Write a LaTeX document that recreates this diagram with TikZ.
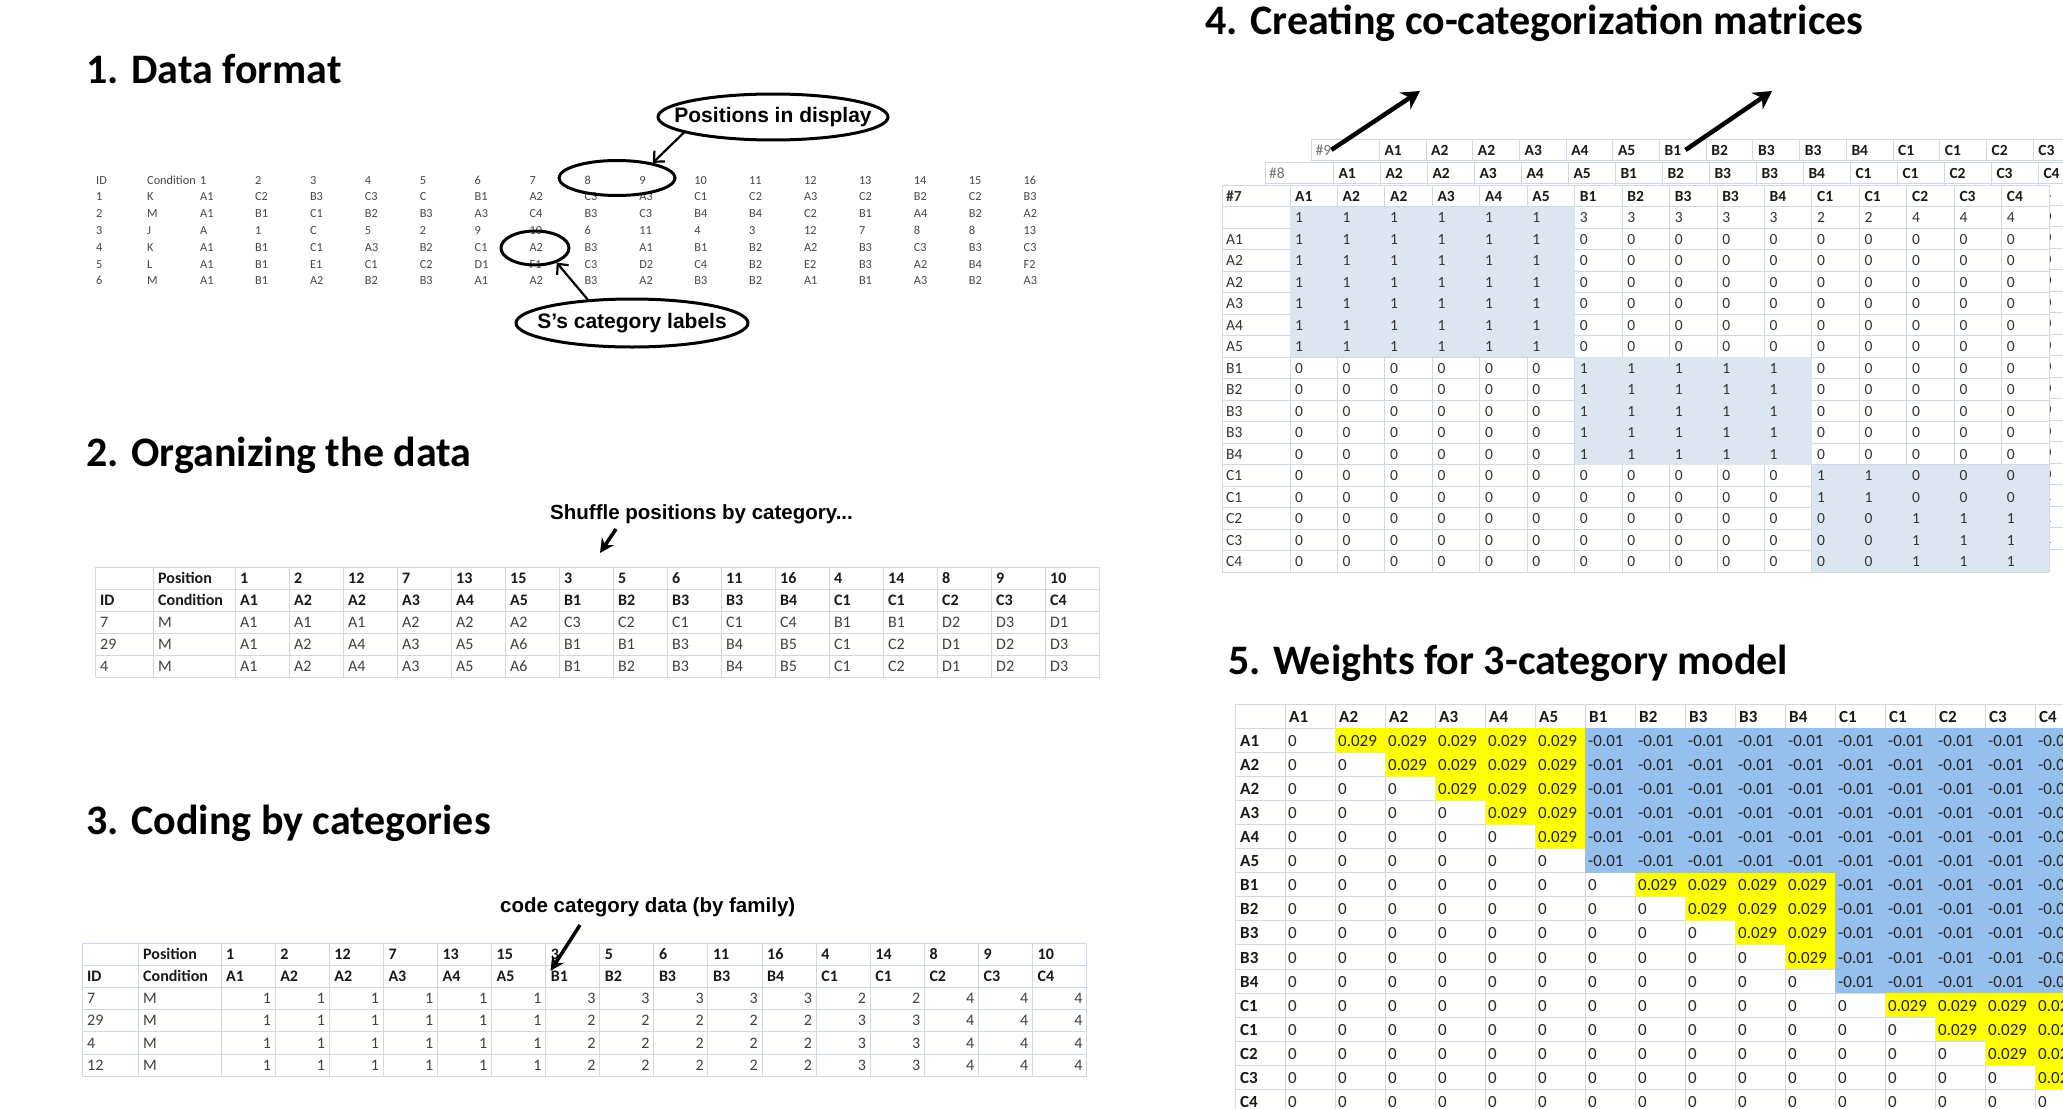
\documentclass[tikz,border=0pt]{standalone}
\usepackage{fontspec}
\setmainfont{Carlito}
\newfontfamily\arialf{Liberation Sans}
\usetikzlibrary{arrows.meta,calc,shapes.geometric}
\definecolor{gridc}{HTML}{D0D7E5}
\definecolor{shadeblue}{HTML}{DCE6F1}
\definecolor{wblue}{HTML}{95BFEC}
\definecolor{wyellow}{HTML}{FFFF00}

\newcommand\drawlayer[8]{%
  \pgfmathsetmacro\LR{#1+#3+16*#4}%
  \pgfmathsetmacro\LB{#2+#7*21.5}%
  \fill[white] (#1,#2) rectangle (\LR,\LB);
  \foreach \k in {0,...,#7} \draw[gridl] (#1,{#2+21.5*\k}) -- (\LR,{#2+21.5*\k});
  \draw[gridl] (#1,#2) -- (#1,\LB);
  \foreach \j in {0,...,16} \draw[gridl] ({#1+#3+#4*\j},#2) -- ({#1+#3+#4*\j},\LB);
  #8
  \node[mbody] (#6-0-0) at ({#1+4},{#2+16}) {#5};
  \foreach \v [count=\c] in {A1,A2,A2,A3,A4,A5,B1,B2,B3,B3,B4,C1,C1,C2,C3,C4}
    \node[mhead] (#6-0-\c) at ({#1+#3+#4*(\c-1)+5},{#2+16}) {\v};
  \ifnum#7>1
  \foreach \row [count=\r] in {%
    {,1,1,1,1,1,1,3,3,3,3,3,2,2,4,4,4},%
    {A1,1,1,1,1,1,1,0,0,0,0,0,0,0,0,0,0},%
    {A2,1,1,1,1,1,1,0,0,0,0,0,0,0,0,0,0},%
    {A2,1,1,1,1,1,1,0,0,0,0,0,0,0,0,0,0},%
    {A3,1,1,1,1,1,1,0,0,0,0,0,0,0,0,0,0},%
    {A4,1,1,1,1,1,1,0,0,0,0,0,0,0,0,0,0},%
    {A5,1,1,1,1,1,1,0,0,0,0,0,0,0,0,0,0},%
    {B1,0,0,0,0,0,0,1,1,1,1,1,0,0,0,0,0},%
    {B2,0,0,0,0,0,0,1,1,1,1,1,0,0,0,0,0},%
    {B3,0,0,0,0,0,0,1,1,1,1,1,0,0,0,0,0},%
    {B3,0,0,0,0,0,0,1,1,1,1,1,0,0,0,0,0},%
    {B4,0,0,0,0,0,0,1,1,1,1,1,0,0,0,0,0},%
    {C1,0,0,0,0,0,0,0,0,0,0,0,1,1,0,0,0},%
    {C1,0,0,0,0,0,0,0,0,0,0,0,1,1,0,0,0},%
    {C2,0,0,0,0,0,0,0,0,0,0,0,0,0,1,1,1},%
    {C3,0,0,0,0,0,0,0,0,0,0,0,0,0,1,1,1},%
    {C4,0,0,0,0,0,0,0,0,0,0,0,0,0,1,1,1}}{%
    \foreach \v [count=\c from 0] in \row {%
      \pgfmathsetmacro\xx{\c==0 ? #1+4 : #1+#3+#4*(\c-1)+5}%
      \pgfmathsetmacro\yy{#2+21.5*(\r+1)-5.5}%
      \node[mbody] (#6-\r-\c) at (\xx,\yy) {\v};
    }%
  }%
  \fi
}

\begin{document}
\begin{tikzpicture}[x=1pt,y=-1pt,
  title/.style={anchor=base west,inner sep=0pt,font=\fontsize{42}{50}\selectfont\bfseries,text=black},
  sone/.style={anchor=base west,inner sep=0pt,font=\fontsize{12.3}{15}\selectfont,text=black!72},
  stab/.style={inner sep=0pt,font=\fontsize{16}{19}\selectfont},
  gridl/.style={draw=gridc,line width=1pt},
  mhead/.style={anchor=base west,inner sep=0pt,font=\fontsize{15.5}{18}\selectfont\bfseries,text=black!90},
  mbody/.style={anchor=base west,inner sep=0pt,font=\fontsize{15.5}{18}\selectfont,text=black!80},
  wcell/.style={anchor=base west,inner sep=0pt,font=\fontsize{17}{20}\selectfont,text=black!85},
  whead/.style={anchor=base west,inner sep=0pt,font=\fontsize{17}{20}\selectfont\bfseries,text=black!90},
  callout/.style={inner sep=0pt,font=\arialf\bfseries\fontsize{21}{25}\selectfont,text=black},
  oval/.style={draw=black,ellipse,line width=3pt,inner sep=0pt},
  carrow/.style={line width=2.2pt,-{Straight Barb[length=8pt,width=15pt]}},
  barrow/.style={line width=3.5pt,-{Stealth[length=14pt,width=14pt]}},
  bigarrow/.style={line width=4.5pt,-{Stealth[length=18pt,width=20pt]}}]

\useasboundingbox (0,0) rectangle (2063,1108);
\clip (0,0) rectangle (2063,1108);
\fill[white] (0,0) rectangle (2063,1108);

% ---------- titles
\node[title] (t1) at (86,83) {1. Data format};
\node[title] (t2) at (86,466) {2. Organizing the data};
\node[title] (t3) at (86,834) {3. Coding by categories};
\node[title] (t4) at (1205,35) {4. Creating co-categorization matrices};
\node[title] (t5) at (1228,674) {5. Weights for 3-category model};

% ---------- section 1
\foreach \row [count=\r from 0] in {%
  {ID,Condition,1,2,3,4,5,6,7,8,9,10,11,12,13,14,15,16},%
  {1,K,A1,C2,B3,C3,C,B1,A2,C3,A3,C1,C2,A3,C2,B2,C2,B3},%
  {2,M,A1,B1,C1,B2,B3,A3,C4,B3,C3,B4,B4,C2,B1,A4,B2,A2},%
  {3,J,A,1,C,5,2,9,10,6,11,4,3,12,7,8,8,13},%
  {4,K,A1,B1,C1,A3,B2,C1,A2,B3,A1,B1,B2,A2,B3,C3,B3,C3},%
  {5,L,A1,B1,E1,C1,C2,D1,F1,C3,D2,C4,B2,E2,B3,A2,B4,F2},%
  {6,M,A1,B1,A2,B2,B3,A1,A2,B3,A2,B3,B2,A1,B1,A3,B2,A3}}{%
  \foreach \v [count=\c from 0] in \row {%
    \pgfmathsetmacro\xx{\c==0 ? 96 : (\c==1 ? 147 : 200+(\c-2)*54.9)}%
    \pgfmathsetmacro\yy{184+16.8*\r}%
    \node[sone] (s1-\r-\c) at (\xx,\yy) {\v};
  }%
}
\node[oval,minimum width=230pt,minimum height=46pt] (pid) at (773,117) {};
\node[callout] (pidt) at (pid.center) {Positions in display};
\node[oval,minimum width=116pt,minimum height=35pt] (e89) at (617,178) {};
\node[oval,minimum width=68pt,minimum height=34pt] (ea2) at (535,248) {};
\node[oval,minimum width=232pt,minimum height=48pt] (sce) at (632,323) {};
\node[callout] (scet) at (sce.center) {S’s category labels};
\draw[carrow] (pid.190) -- (e89.23);
\draw[carrow] (sce.152) -- (ea2.326);

% ---------- section 2
\foreach \k in {0,...,5} \draw[gridl] (95,{567+22.1*\k}) -- (1099,{567+22.1*\k});
\foreach \xx in {95,153} \draw[gridl] (\xx,567) -- (\xx,677.5);
\foreach \j in {0,...,16} \draw[gridl] ({235+54*\j},567) -- ({235+54*\j},677.5);
\foreach \row [count=\r from 0] in {%
  {,Position,1,2,12,7,13,15,3,5,6,11,16,4,14,8,9,10},%
  {ID,Condition,A1,A2,A2,A3,A4,A5,B1,B2,B3,B3,B4,C1,C1,C2,C3,C4},%
  {7,M,A1,A1,A1,A2,A2,A2,C3,C2,C1,C1,C4,B1,B1,D2,D3,D1},%
  {29,M,A1,A2,A4,A3,A5,A6,B1,B1,B3,B4,B5,C1,C2,D1,D2,D3},%
  {4,M,A1,A2,A4,A3,A5,A6,B1,B2,B3,B4,B5,C1,C2,D1,D2,D3}}{%
  \foreach \v [count=\c from 0] in \row {%
    \pgfmathsetmacro\xx{\c==0 ? 100 : (\c==1 ? 158 : 240+(\c-2)*54)}%
    \pgfmathsetmacro\yy{567+22.1*(\r+1)-6}%
    \ifnum\r<2 \def\ff{\bfseries\color{black!90}}\else\def\ff{\color{black!75}}\fi
    \node[stab,anchor=base west] (s2-\r-\c) at (\xx,\yy) {\ff\v};
  }%
}
\node[callout,anchor=base west,font=\arialf\bfseries\fontsize{20.5}{24}\selectfont] (shuf) at (550,519) {Shuffle positions by category...};
\draw[barrow] ($(shuf.base west)+(66,10)$) -- ($(shuf.base west)+(50,34)$);

% ---------- section 3
\foreach \k in {0,...,6} \draw[gridl] (82,{943+22.2*\k}) -- (1087,{943+22.2*\k});
\foreach \xx in {82,138} \draw[gridl] (\xx,943) -- (\xx,1076.2);
\foreach \j in {0,...,16} \draw[gridl] ({221+54.1*\j},943) -- ({221+54.1*\j},1076.2);
\foreach \row [count=\r from 0] in {%
  {,Position,1,2,12,7,13,15,3,5,6,11,16,4,14,8,9,10},%
  {ID,Condition,A1,A2,A2,A3,A4,A5,B1,B2,B3,B3,B4,C1,C1,C2,C3,C4},%
  {7,M,1,1,1,1,1,1,3,3,3,3,3,2,2,4,4,4},%
  {29,M,1,1,1,1,1,1,2,2,2,2,2,3,3,4,4,4},%
  {4,M,1,1,1,1,1,1,2,2,2,2,2,3,3,4,4,4},%
  {12,M,1,1,1,1,1,1,2,2,2,2,2,3,3,4,4,4}}{%
  \foreach \v [count=\c from 0] in \row {%
    \pgfmathsetmacro\yy{943+22.2*(\r+1)-6}%
    \ifnum\r<2
      \pgfmathsetmacro\xx{\c==0 ? 87 : (\c==1 ? 143 : 226+(\c-2)*54.1)}%
      \def\anc{base west}\def\ff{\bfseries\color{black!90}}%
    \else
      \ifnum\c<2
        \pgfmathsetmacro\xx{\c==0 ? 87 : 143}\def\anc{base west}%
      \else
        \pgfmathsetmacro\xx{221+54.1*(\c-1)-4}\def\anc{base east}%
      \fi
      \def\ff{\color{black!75}}%
    \fi
    \node[stab,anchor=\anc] (s3-\r-\c) at (\xx,\yy) {\ff\v};
  }%
}
\node[callout,anchor=base west,font=\arialf\bfseries\fontsize{20.5}{24}\selectfont] (code) at (500,912) {code category data (by family)};
\draw[barrow] ($(code.base west)+(80,13)$) -- (s3-1-8.north west);

% ---------- section 4
\drawlayer{1311.5}{139}{67.8}{46.7}{\color{black!55}\#9}{L9}{1}{}
\drawlayer{1265}{162}{68.3}{47.0}{\color{black!55}\#8}{L8}{18}{}
\drawlayer{1222}{185}{68}{47.45}{\bfseries\#7}{L7}{18}{%
  \fill[shadeblue] (1290,206.5) rectangle (1574.7,357);
  \fill[shadeblue] (1574.7,357) rectangle (1811.95,464.5);
  \fill[shadeblue] (1811.95,464.5) rectangle (2049.2,572);}
\coordinate (up1) at (1420,91);
\coordinate (up2) at (1772,91);
\draw[bigarrow] (L9-0-0.east) -- (up1);
\draw[bigarrow] ([xshift=4pt]L9-0-7.east) -- (up2);

% ---------- section 5
\fill[white] (1235,704.5) rectangle (2063,1108);
\draw[gridl] (1235,704.5) -- (2085,704.5);
\foreach \k in {0,...,16} \draw[gridl] (1235,{728.5+24.05*\k}) -- (2085,{728.5+24.05*\k});
\draw[gridl] (1235,704.5) -- (1235,1115);
\foreach \j in {0,...,16} \draw[gridl] ({1285+50*\j},704.5) -- ({1285+50*\j},1115);
\foreach \i in {1,...,16} {%
  \pgfmathtruncatemacro\famEnd{\i<=6 ? 6 : (\i<=11 ? 11 : 16)}%
  \pgfmathsetmacro\ya{728.5+24.05*(\i-1)-0.3}%
  \pgfmathsetmacro\yb{728.5+24.05*\i+0.3}%
  \ifnum\i<\famEnd
    \fill[wyellow] ({1285+50*\i},\ya) rectangle ({1285+50*\famEnd+0.3},\yb);
  \fi
  \ifnum\famEnd<16
    \fill[wblue] ({1285+50*\famEnd},\ya) rectangle (2090,\yb);
  \fi
}
\foreach \v [count=\c] in {A1,A2,A2,A3,A4,A5,B1,B2,B3,B3,B4,C1,C1,C2,C3,C4}
  \node[whead] (w-0-\c) at ({1285+50*(\c-1)+4},722.5) {\v};
\foreach \v [count=\i] in {A1,A2,A2,A3,A4,A5,B1,B2,B3,B3,B4,C1,C1,C2,C3,C4}
  \node[whead] (w-\i-0) at (1240,{728.5+24.05*\i-6}) {\v};
\foreach \i in {1,...,16} {%
  \pgfmathtruncatemacro\famI{\i<=6 ? 1 : (\i<=11 ? 2 : 3)}%
  \foreach \j in {1,...,16} {%
    \pgfmathtruncatemacro\famJ{\j<=6 ? 1 : (\j<=11 ? 2 : 3)}%
    \ifnum\j>\i
      \ifnum\famI=\famJ \def\val{0.029}\else\def\val{-0.01}\fi
    \else
      \def\val{0}%
    \fi
    \node[wcell] (w-\i-\j) at ({1285+50*(\j-1)+3},{728.5+24.05*\i-6}) {\val};
  }%
}
\end{tikzpicture}
\end{document}
